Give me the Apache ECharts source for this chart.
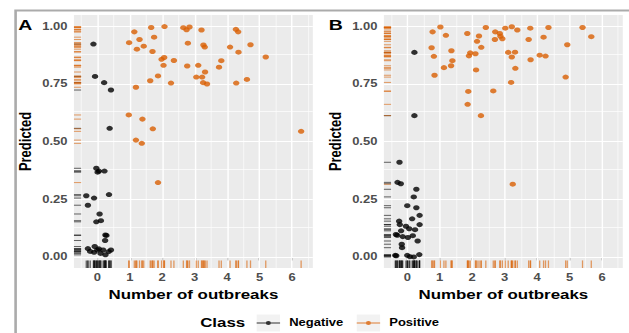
<!DOCTYPE html>
<html>
<head>
<meta charset="utf-8">
<script src="https://cdn.jsdelivr.net/npm/echarts@6/dist/echarts.min.js"></script>
<style>
  html, body { margin: 0; padding: 0; background: #fff; overflow: hidden; }
  /* the reference figure is stretched sideways, so the chart is too */
  #main { width: 484px; height: 333px; transform: scaleX(1.2996); transform-origin: 0 0; }
</style>
</head>
<body>
<div id="main"></div>
<script>
// panel A: [number of outbreaks (jittered), predicted]
const negativeA = [
  [-0.12, 0.922], [-0.07, 0.782], [0.21, 0.755], [0.42, 0.723], [0.38, 0.557],
  [-0.03, 0.384], [0.01, 0.367], [0.05, 0.372], [0.22, 0.372], [-0.34, 0.265],
  [-0.10, 0.255], [0.36, 0.270], [-0.29, 0.224], [0.07, 0.186], [-0.03, 0.152],
  [0.11, 0.157], [0.25, 0.095], [0.28, 0.093], [0.24, 0.071], [-0.29, 0.036],
  [-0.22, 0.024], [-0.08, 0.045], [0.0, 0.030], [-0.10, 0.020], [0.18, 0.030],
  [0.25, 0.009], [0.35, 0.023], [0.42, 0.030], [0.10, 0.015], [0.05, 0.035],
]
const positiveA = [
  [0.98, 0.928], [1.14, 0.975], [1.30, 0.942], [1.22, 0.900], [1.43, 0.913],
  [1.66, 0.994], [1.75, 0.952], [1.70, 0.890], [2.07, 0.998], [1.98, 0.856],
  [2.06, 0.864], [2.04, 0.830], [2.36, 0.851], [1.87, 0.784], [1.63, 0.763],
  [2.27, 0.753], [1.19, 0.735], [2.65, 0.993], [2.75, 0.984], [2.84, 0.996],
  [3.21, 0.983], [2.79, 0.926], [3.27, 0.918], [3.31, 0.909], [2.77, 0.827],
  [3.11, 0.830], [3.32, 0.801], [3.05, 0.779], [3.23, 0.779], [3.26, 0.755],
  [3.38, 0.749], [3.75, 0.822], [3.82, 0.850], [4.09, 0.909], [4.27, 0.986],
  [4.34, 0.975], [4.35, 0.887], [4.72, 0.919], [4.28, 0.753], [4.61, 0.769],
  [5.19, 0.866], [0.97, 0.615], [1.39, 0.597], [1.71, 0.555], [1.19, 0.506],
  [1.37, 0.492], [6.28, 0.544], [1.87, 0.322],
]

// panel B
const negativeB = [
  [0.22, 0.886], [0.22, 0.612], [-0.24, 0.410], [-0.30, 0.323], [-0.20, 0.317],
  [0.28, 0.293], [0.20, 0.260], [0.0, 0.222], [0.28, 0.213], [0.38, 0.180],
  [0.15, 0.165], [-0.25, 0.155], [-0.23, 0.140], [0.38, 0.140], [-0.04, 0.133],
  [0.06, 0.122], [0.24, 0.118], [-0.19, 0.113], [-0.35, 0.097], [-0.31, 0.094],
  [-0.14, 0.088], [0.17, 0.092], [0.02, 0.084], [0.32, 0.069], [-0.17, 0.055],
  [-0.16, 0.040], [-0.37, 0.007], [-0.34, 0.005], [0.0, 0.007], [0.08, 0.001],
  [0.20, 0.0], [0.37, 0.010],
]
const positiveB = [
  [0.78, 0.975], [1.02, 0.996], [1.19, 0.960], [0.75, 0.906], [0.82, 0.869],
  [0.84, 0.787], [1.13, 0.820], [1.36, 0.893], [1.39, 0.850], [1.35, 0.828],
  [1.85, 0.968], [2.15, 0.934], [2.21, 0.957], [1.94, 0.884], [1.90, 0.871],
  [2.10, 0.880], [2.28, 0.908], [2.12, 0.810], [1.88, 0.717], [1.86, 0.661],
  [2.27, 0.612], [2.42, 0.994], [2.70, 0.942], [2.71, 0.975], [2.85, 0.968],
  [2.87, 0.956], [2.93, 0.945], [3.02, 0.991], [3.22, 0.997], [3.39, 0.983],
  [3.11, 0.886], [3.32, 0.887], [3.22, 0.866], [3.33, 0.817], [3.20, 0.756],
  [2.65, 0.719], [3.74, 0.942], [3.79, 0.991], [3.80, 0.854], [4.08, 0.874],
  [4.26, 0.870], [4.20, 0.952], [4.35, 0.994], [4.93, 0.919], [4.88, 0.779],
  [5.40, 0.994], [5.67, 0.954], [3.25, 0.315],
]

const xTicks = [0, 1, 2, 3, 4, 5, 6]
const yTicks = [0, 0.25, 0.5, 0.75, 1]
const xMinor = [-0.5, 0.5, 1.5, 2.5, 3.5, 4.5, 5.5, 6.5]
const yMinor = [0.125, 0.375, 0.625, 0.875]
const panelLabels = ['A', 'B']
const classNames = ['Negative', 'Positive']

const NEG = '#000000'
const POS = '#D95F02'
const FONT = '"Liberation Sans", Arial, sans-serif'

const chart = echarts.init(document.getElementById('main'), null, { renderer: 'svg' })

const grids = [
  { left: 56.9, top: 15, width: 183.8, height: 253 },
  { left: 295.4, top: 15, width: 183.8, height: 253 },
]

// ggplot-style rug: short ticks on the left and bottom edges of the panel
const rugRenderer = (color) => (params, api) => {
  const pt = api.coord([api.value(0), api.value(1)])
  const cs = params.coordSys
  const bottom = cs.y + cs.height
  return {
    type: 'group',
    children: [
      {
        type: 'line',
        shape: { x1: cs.x, y1: pt[1], x2: cs.x + cs.width * 0.03, y2: pt[1] },
        style: { stroke: color, lineWidth: 1, opacity: 0.6 },
      },
      {
        type: 'line',
        shape: { x1: pt[0], y1: bottom, x2: pt[0], y2: bottom - cs.height * 0.03 },
        style: { stroke: color, lineWidth: 1, opacity: 0.6 },
      },
    ],
  }
}

// white major/minor panel grid, kept under the points
const gridLineSeries = (i) => ({
  type: 'scatter',
  xAxisIndex: i,
  yAxisIndex: i,
  data: [],
  z: 1,
  silent: true,
  markLine: {
    z: 1,
    silent: true,
    animation: false,
    symbol: ['none', 'none'],
    label: { show: false },
    emphasis: { disabled: true },
    data: [
      ...xMinor.map((v) => ({ xAxis: v, lineStyle: { color: '#fff', width: 0.55, type: 'solid' } })),
      ...yMinor.map((v) => ({ yAxis: v, lineStyle: { color: '#fff', width: 0.6, type: 'solid' } })),
      ...xTicks.map((v) => ({ xAxis: v, lineStyle: { color: '#fff', width: 1.1, type: 'solid' } })),
      ...yTicks.map((v) => ({ yAxis: v, lineStyle: { color: '#fff', width: 1.2, type: 'solid' } })),
    ],
  },
})

const panels = [
  { neg: negativeA, pos: positiveA },
  { neg: negativeB, pos: positiveB },
]

const series = []
panels.forEach((p, i) => {
  series.push(gridLineSeries(i))
  series.push({
    name: 'rug-neg-' + i, type: 'custom', xAxisIndex: i, yAxisIndex: i,
    z: 6, silent: true, renderItem: rugRenderer(NEG), data: p.neg,
  })
  series.push({
    name: 'rug-pos-' + i, type: 'custom', xAxisIndex: i, yAxisIndex: i,
    z: 6, silent: true, renderItem: rugRenderer(POS), data: p.pos,
  })
  series.push({
    name: 'Negative', type: 'scatter', xAxisIndex: i, yAxisIndex: i, z: 8,
    symbol: 'circle', symbolSize: 5, itemStyle: { color: NEG }, data: p.neg,
  })
  series.push({
    name: 'Positive', type: 'scatter', xAxisIndex: i, yAxisIndex: i, z: 8,
    symbol: 'circle', symbolSize: 5, itemStyle: { color: POS }, data: p.pos,
  })
})

const tickStyle = { color: '#333', width: 1 }
const labelStyle = { color: '#4D4D4D', fontWeight: 'bold', fontSize: 10, fontFamily: FONT }
const nameStyle = { color: '#000', fontWeight: 'bold', fontSize: 13, fontFamily: FONT }

const legendIcon = 'path://M0,4.5L18,4.5L18,5.5L0,5.5Z M11,5A2,2,0,1,1,7,5A2,2,0,1,1,11,5Z'
const legendLeft = [197.5, 274.5]

chart.setOption({
  animation: false,
  textStyle: { fontFamily: FONT },
  grid: grids.map((g) => ({
    ...g,
    show: true,
    backgroundColor: '#EBEBEB',
    borderWidth: 0,
  })),
  xAxis: grids.map((_, i) => ({
    gridIndex: i,
    type: 'value',
    min: -0.72,
    max: 6.64,
    axisLine: { show: false },
    axisTick: { show: true, length: 3.5, lineStyle: tickStyle, customValues: xTicks },
    axisLabel: { ...labelStyle, margin: 5, customValues: xTicks },
    splitLine: { show: false },
    name: 'Number of outbreaks',
    nameLocation: 'middle',
    nameGap: 20,
    nameTextStyle: nameStyle,
  })),
  yAxis: grids.map((_, i) => ({
    gridIndex: i,
    type: 'value',
    min: -0.048,
    max: 1.048,
    axisLine: { show: false },
    axisTick: { show: true, length: 3.5, lineStyle: tickStyle, customValues: yTicks },
    axisLabel: {
      ...labelStyle,
      margin: 5,
      customValues: yTicks,
      formatter: (v) => v.toFixed(2),
    },
    splitLine: { show: false },
    name: 'Predicted',
    nameLocation: 'middle',
    nameGap: 31,
    nameTextStyle: nameStyle,
  })),
  legend: classNames.map((name, i) => ({
    data: [{ name, icon: legendIcon }],
    left: legendLeft[i],
    top: 318,
    padding: 0,
    itemWidth: 18,
    itemHeight: 10,
    selectedMode: false,
    textStyle: { color: '#000', fontWeight: 'bold', fontSize: 10, fontFamily: FONT, padding: [0, 0, 0, 2] },
  })),
  graphic: [
    {
      type: 'rect', left: 9.5, top: 8, z: -10, silent: true,
      shape: { width: 600, height: 400 },
      style: { fill: 'none', stroke: '#ABABAB', lineWidth: 2 },
    },
    ...panelLabels.map((t, i) => ({
      type: 'text', left: [14, 253][i], top: 17,
      style: { text: t, fill: '#000', font: 'bold 15px ' + FONT },
    })),
    {
      type: 'text', left: 154, top: 316,
      style: { text: 'Class', fill: '#000', font: 'bold 13px ' + FONT },
    },
    ...legendLeft.map((x) => ({
      type: 'rect', left: x, top: 314.5, z: -1, silent: true,
      shape: { width: 18, height: 17 },
      style: { fill: '#F2F2F2' },
    })),
  ],
  series,
})
</script>
</body>
</html>
